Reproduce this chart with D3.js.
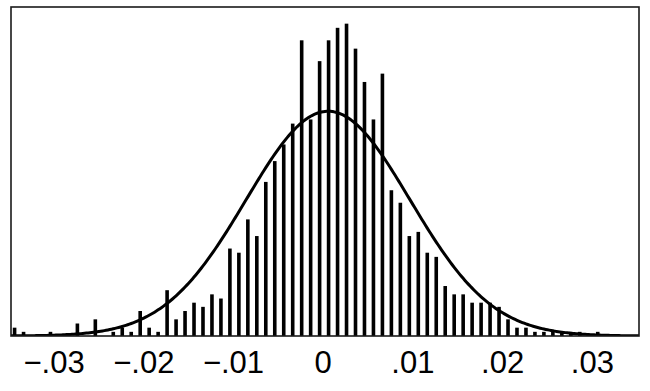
<!DOCTYPE html>
<html>
<head>
<meta charset="utf-8">
<script src="https://cdn.jsdelivr.net/npm/d3@7"></script>
<style>
  html, body { margin: 0; padding: 0; background: #fff; }
  svg { display: block; }
</style>
</head>
<body>
<div id="chart"></div>
<script>
// histogram of returns with a fitted normal curve on top

// bin layout (data units)
const binStart = -0.0349;
const binWidth = 0.001;

// frequency per bin, left to right
const counts = [
  2, 1, 0, 0, 1, 0, 0, 3, 0, 4,
  0, 1, 2, 1, 6, 2, 1, 11, 4, 6,
  8, 7, 10, 9, 21, 20, 28, 24, 37, 42,
  46, 51, 71, 52, 66, 71, 74, 75, 69, 61,
  52, 63, 35, 32, 24, 25, 20, 19, 12, 10,
  10, 8, 8, 8, 7, 4, 2, 2, 1, 1,
  1, 1, 1, 1, 0, 1
];

// normal fit
const fitMean = 0.00054;
const fitSd = 0.00913;
const nObs = d3.sum(counts);

const tickValues = [-0.03, -0.02, -0.01, 0, 0.01, 0.02, 0.03];
const tickLabels = ["\u2212.03", "\u2212.02", "\u2212.01", "0", ".01", ".02", ".03"];
const xDomain = [-0.0348, 0.0352];
const yMax = 79;

const W = 650, H = 391;
const frame = { left: 11, top: 7, right: 639, bottom: 336 };

const svg = d3.select("#chart").append("svg")
    .attr("width", W)
    .attr("height", H);

const x = d3.scaleLinear().domain(xDomain).range([frame.left, frame.right]);
const y = d3.scaleLinear().domain([0, yMax]).range([frame.bottom, frame.top]);

const bins = counts.map((c, i) => ({
    mid: binStart + binWidth * (i + 0.5),
    count: c
}));

svg.append("defs").append("clipPath")
    .attr("id", "plot-clip")
  .append("rect")
    .attr("x", frame.left)
    .attr("y", frame.top)
    .attr("width", frame.right - frame.left)
    .attr("height", frame.bottom - frame.top);

const plot = svg.append("g").attr("clip-path", "url(#plot-clip)");

// bars
const barW = 3.6;
plot.selectAll(".bar")
    .data(bins.filter(d => d.count > 0))
    .enter().append("rect")
    .attr("class", "bar")
    .attr("x", d => x(d.mid) - barW / 2)
    .attr("width", barW)
    .attr("y", d => y(d.count))
    .attr("height", d => y(0) - y(d.count))
    .attr("fill", "#000");

// normal density scaled to frequencies
const pdf = v => Math.exp(-0.5 * ((v - fitMean) / fitSd) ** 2) / (fitSd * Math.sqrt(2 * Math.PI));
const curvePts = d3.range(xDomain[0], xDomain[1] + 1e-6, 0.0002)
    .map(v => [v, nObs * binWidth * pdf(v)]);

plot.append("path")
    .datum(curvePts)
    .attr("fill", "none")
    .attr("stroke", "#000")
    .attr("stroke-width", 3)
    .attr("stroke-linejoin", "round")
    .attr("d", d3.line().x(d => x(d[0])).y(d => y(d[1])));

// frame
svg.append("rect")
    .attr("x", frame.left)
    .attr("y", frame.top)
    .attr("width", frame.right - frame.left)
    .attr("height", frame.bottom - frame.top)
    .attr("fill", "none")
    .attr("stroke", "#1a1a1a")
    .attr("stroke-width", 1.6);

// x labels, no tick marks
svg.append("g")
    .selectAll("text")
    .data(tickValues)
    .enter().append("text")
    .attr("x", d => x(d))
    .attr("y", 373)
    .attr("text-anchor", "middle")
    .attr("font-family", "Liberation Sans, Arial, Helvetica, sans-serif")
    .attr("font-size", 31)
    .attr("fill", "#000")
    .text((d, i) => tickLabels[i]);
</script>
</body>
</html>
